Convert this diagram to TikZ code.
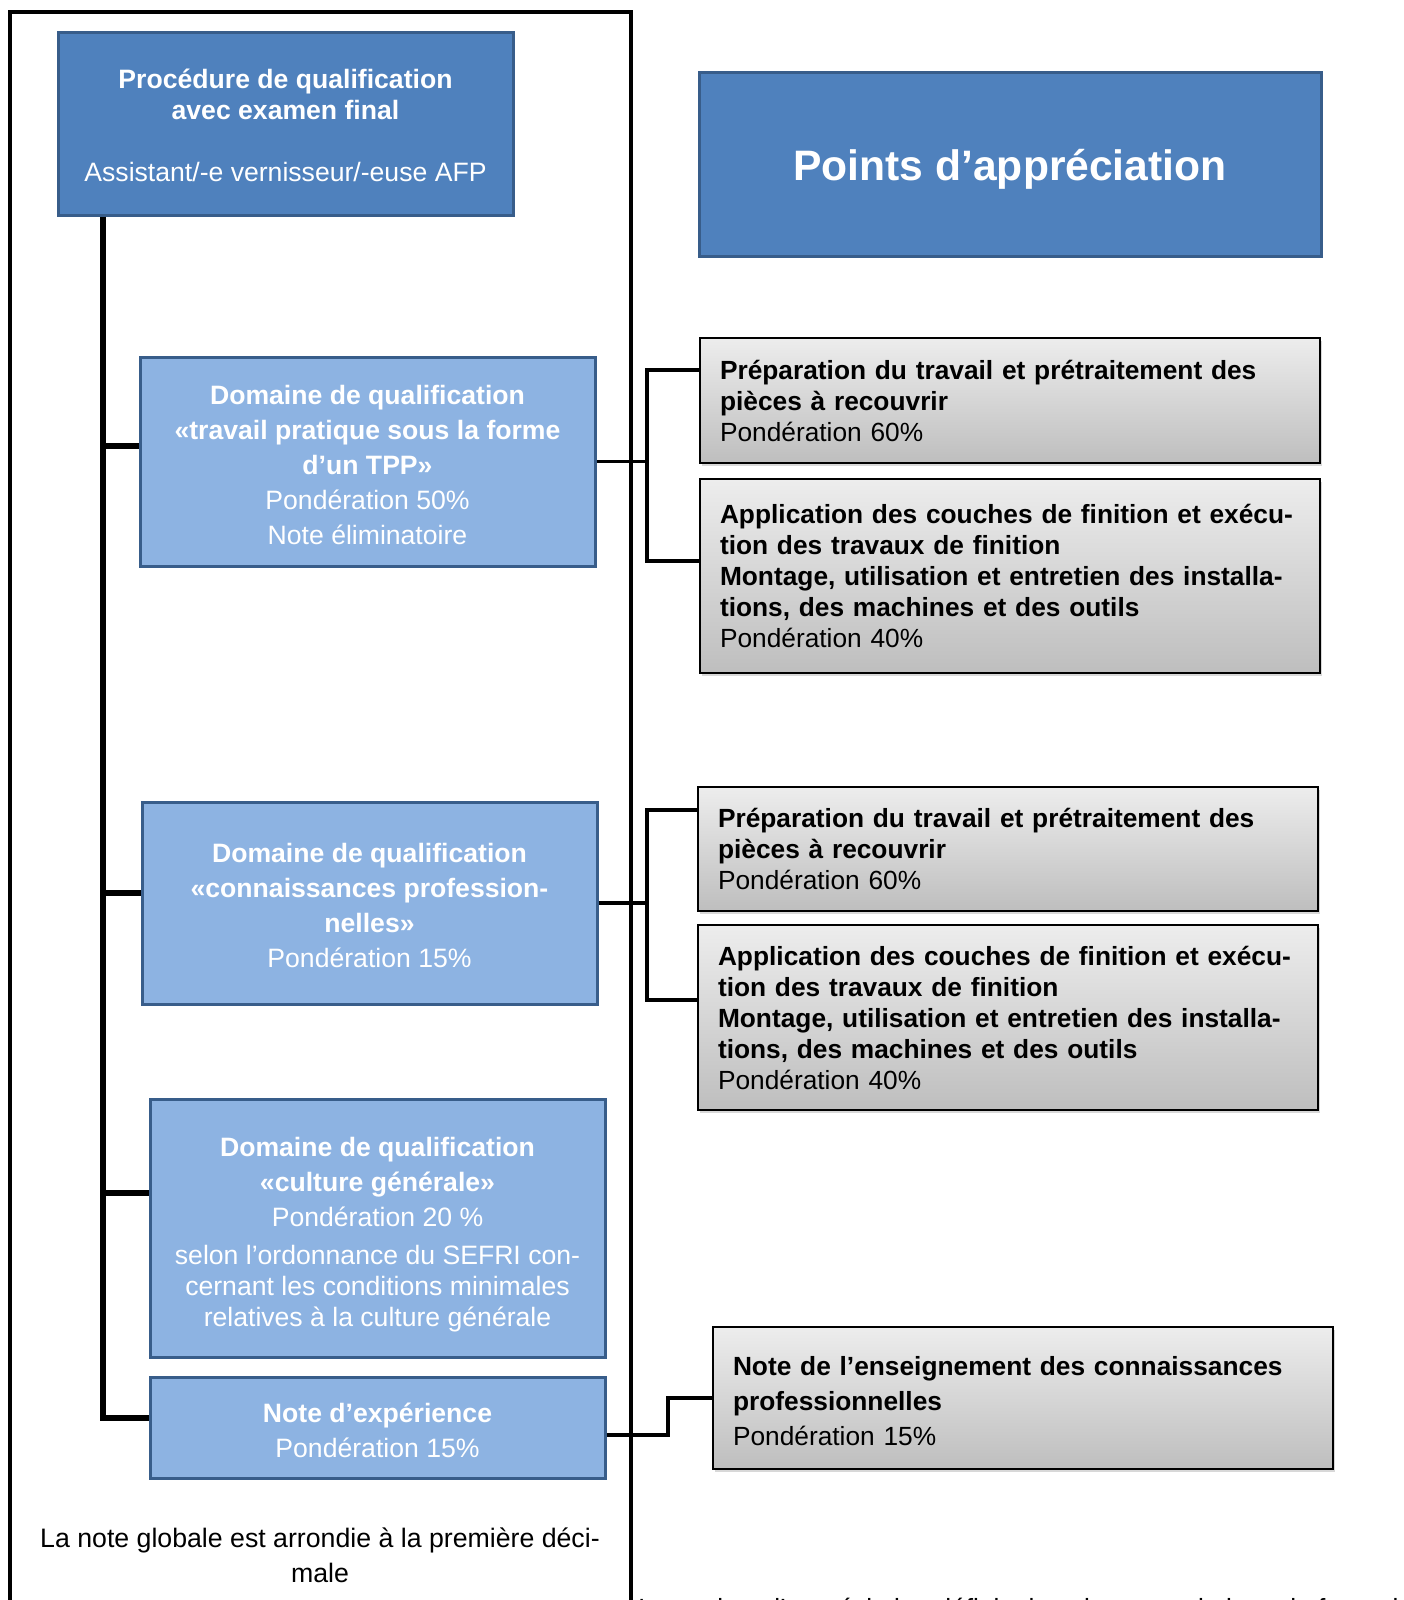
\documentclass[tikz,border=0pt]{standalone}
\usepackage{fontspec}
\setmainfont{Liberation Sans}
\usepackage{tikz}
\usetikzlibrary{shadows}
\definecolor{bleufonce}{HTML}{4F81BD}
\definecolor{bordbleu}{HTML}{385D8A}
\definecolor{bleuclair}{HTML}{8DB3E2}
\definecolor{grishaut}{HTML}{EDEDED}
\definecolor{grisbas}{HTML}{BEBEBE}
\newcommand{\haut}[1]{\rule{0pt}{#1}}
\begin{document}
\begin{tikzpicture}[x=0.5pt,y=-0.5pt,
	titre/.style={draw=bordbleu,line width=1.5pt,fill=bleufonce,text=white,align=center,minimum width=227.5pt},
	domaine/.style={draw=bordbleu,line width=1.5pt,fill=bleuclair,text=white,align=center,minimum width=227.5pt,font=\fontsize{13.3}{17.5}\selectfont},
	point/.style={draw=black,line width=0.8pt,top color=grishaut,bottom color=grisbas,text width=290pt,inner xsep=10pt,align=left,font=\fontsize{13.15}{15.5}\selectfont,drop shadow={opacity=0.3,shadow xshift=1pt,shadow yshift=-1.5pt}},
	tronc/.style={line width=3pt},
	lien/.style={line width=1.6pt}]
			\useasboundingbox (0,0) rectangle (1403,1600);
			\clip (0,0) rectangle (1403,1600);
			\fill[white] (0,0) rectangle (1403,1600);
			\draw[line width=1.6pt] (10,1600) -- (10,12) -- (631,12) -- (631,1600);
			\node[titre,minimum height=91pt,font=\fontsize{13.3}{15.5}\selectfont] (proc) at (285.5,124) {\textbf{\haut{11.5pt}Procédure de qualification}\\\textbf{avec examen final}\\[15.5pt]Assistant/-e vernisseur/-euse AFP};
			\node[titre,minimum width=311pt,minimum height=91.5pt,text height=20.5pt,font=\fontsize{21.3}{25}\selectfont\bfseries] (points) at (1010,164.5) {Points d’appréciation};
			\node[domaine,minimum height=104.5pt] (tpp) at (367.5,461.5) {\textbf{\haut{13pt}Domaine de qualification}\\\textbf{«travail pratique sous la forme}\\\textbf{d’un TPP»}\\Pondération 50\%\\Note éliminatoire};
			\node[domaine,minimum height=101pt] (cp) at (369.5,903) {\textbf{\haut{12.5pt}Domaine de qualification}\\\textbf{«connaissances profession-}\\\textbf{nelles»}\\Pondération 15\%};
			\node[domaine,minimum height=129pt] (cg) at (377.5,1228) {\textbf{\haut{16pt}Domaine de qualification}\\\textbf{«culture générale»}\\Pondération 20 \%\\[1.5pt]selon l’ordonnance du SEFRI con-\\[-2pt]cernant les conditions minimales\\[-2pt]relatives à la culture générale};
			\node[domaine,minimum height=50.5pt] (exp) at (377.5,1427.5) {\textbf{\haut{12.5pt}Note d’expérience}\\Pondération 15\%};
			\node[point,minimum height=62.5pt] (prep1) at (1010,400.5) {\textbf{Préparation du travail et prétraitement des}\\\textbf{pièces à recouvrir}\\Pondération 60\%};
			\node[point,minimum height=97pt] (appl1) at (1010,576) {\textbf{Application des couches de finition et exécu-}\\\textbf{tion des travaux de finition}\\\textbf{Montage, utilisation et entretien des installa-}\\\textbf{tions, des machines et des outils}\\Pondération 40\%};
			\node[point,minimum height=62pt] (prep2) at (1008,849) {\textbf{Préparation du travail et prétraitement des}\\\textbf{pièces à recouvrir}\\Pondération 60\%};
			\node[point,minimum height=92.5pt] (appl2) at (1008,1017.5) {\textbf{Application des couches de finition et exécu-}\\\textbf{tion des travaux de finition}\\\textbf{Montage, utilisation et entretien des installa-}\\\textbf{tions, des machines et des outils}\\Pondération 40\%};
			\node[point,minimum height=71pt,font=\fontsize{13.15}{17.5}\selectfont] (ens) at (1023,1398) {\textbf{\haut{12.5pt}Note de l’enseignement des connaissances}\\\textbf{professionnelles}\\Pondération 15\%};
			\node[align=center,font=\fontsize{13.35}{17.5}\selectfont] (arrondi) at (320,1555.5) {La note globale est arrondie à la première déci-\\male};
			\node[anchor=north west,inner sep=0pt,font=\fontsize{13.15}{15.5}\selectfont] (remarque) at (638,1598) {Les points d’appréciation définis dans les prescriptions de formation};
			\coordinate (b1) at (103,446);
			\coordinate (b2) at (103,893);
			\coordinate (b3) at (103,1193);
			\coordinate (b4) at (103,1418);
			\draw[tronc] (proc.south -| b1) -- (b4) -- (b4 -| exp.west);
			\draw[tronc] (b1) -- (b1 -| tpp.west);
			\draw[tronc] (b2) -- (b2 -| cp.west);
			\draw[tronc] (b3) -- (b3 -| cg.west);
			\coordinate (j1) at (647,370);
			\coordinate (j2) at (647,561);
			\coordinate (j3) at (647,810);
			\coordinate (j4) at (647,1000);
			\coordinate (k1) at (668,1435);
			\draw[lien] (tpp.east) -- (tpp.east -| j1);
			\draw[lien] (j1 -| prep1.west) -- (j1) -- (j2) -- (j2 -| appl1.west);
			\draw[lien] (cp.east) -- (cp.east -| j3);
			\draw[lien] (j3 -| prep2.west) -- (j3) -- (j4) -- (j4 -| appl2.west);
			\draw[lien] (k1 -| exp.east) -- (k1) |- (ens.west);
		\end{tikzpicture}
\end{document}
